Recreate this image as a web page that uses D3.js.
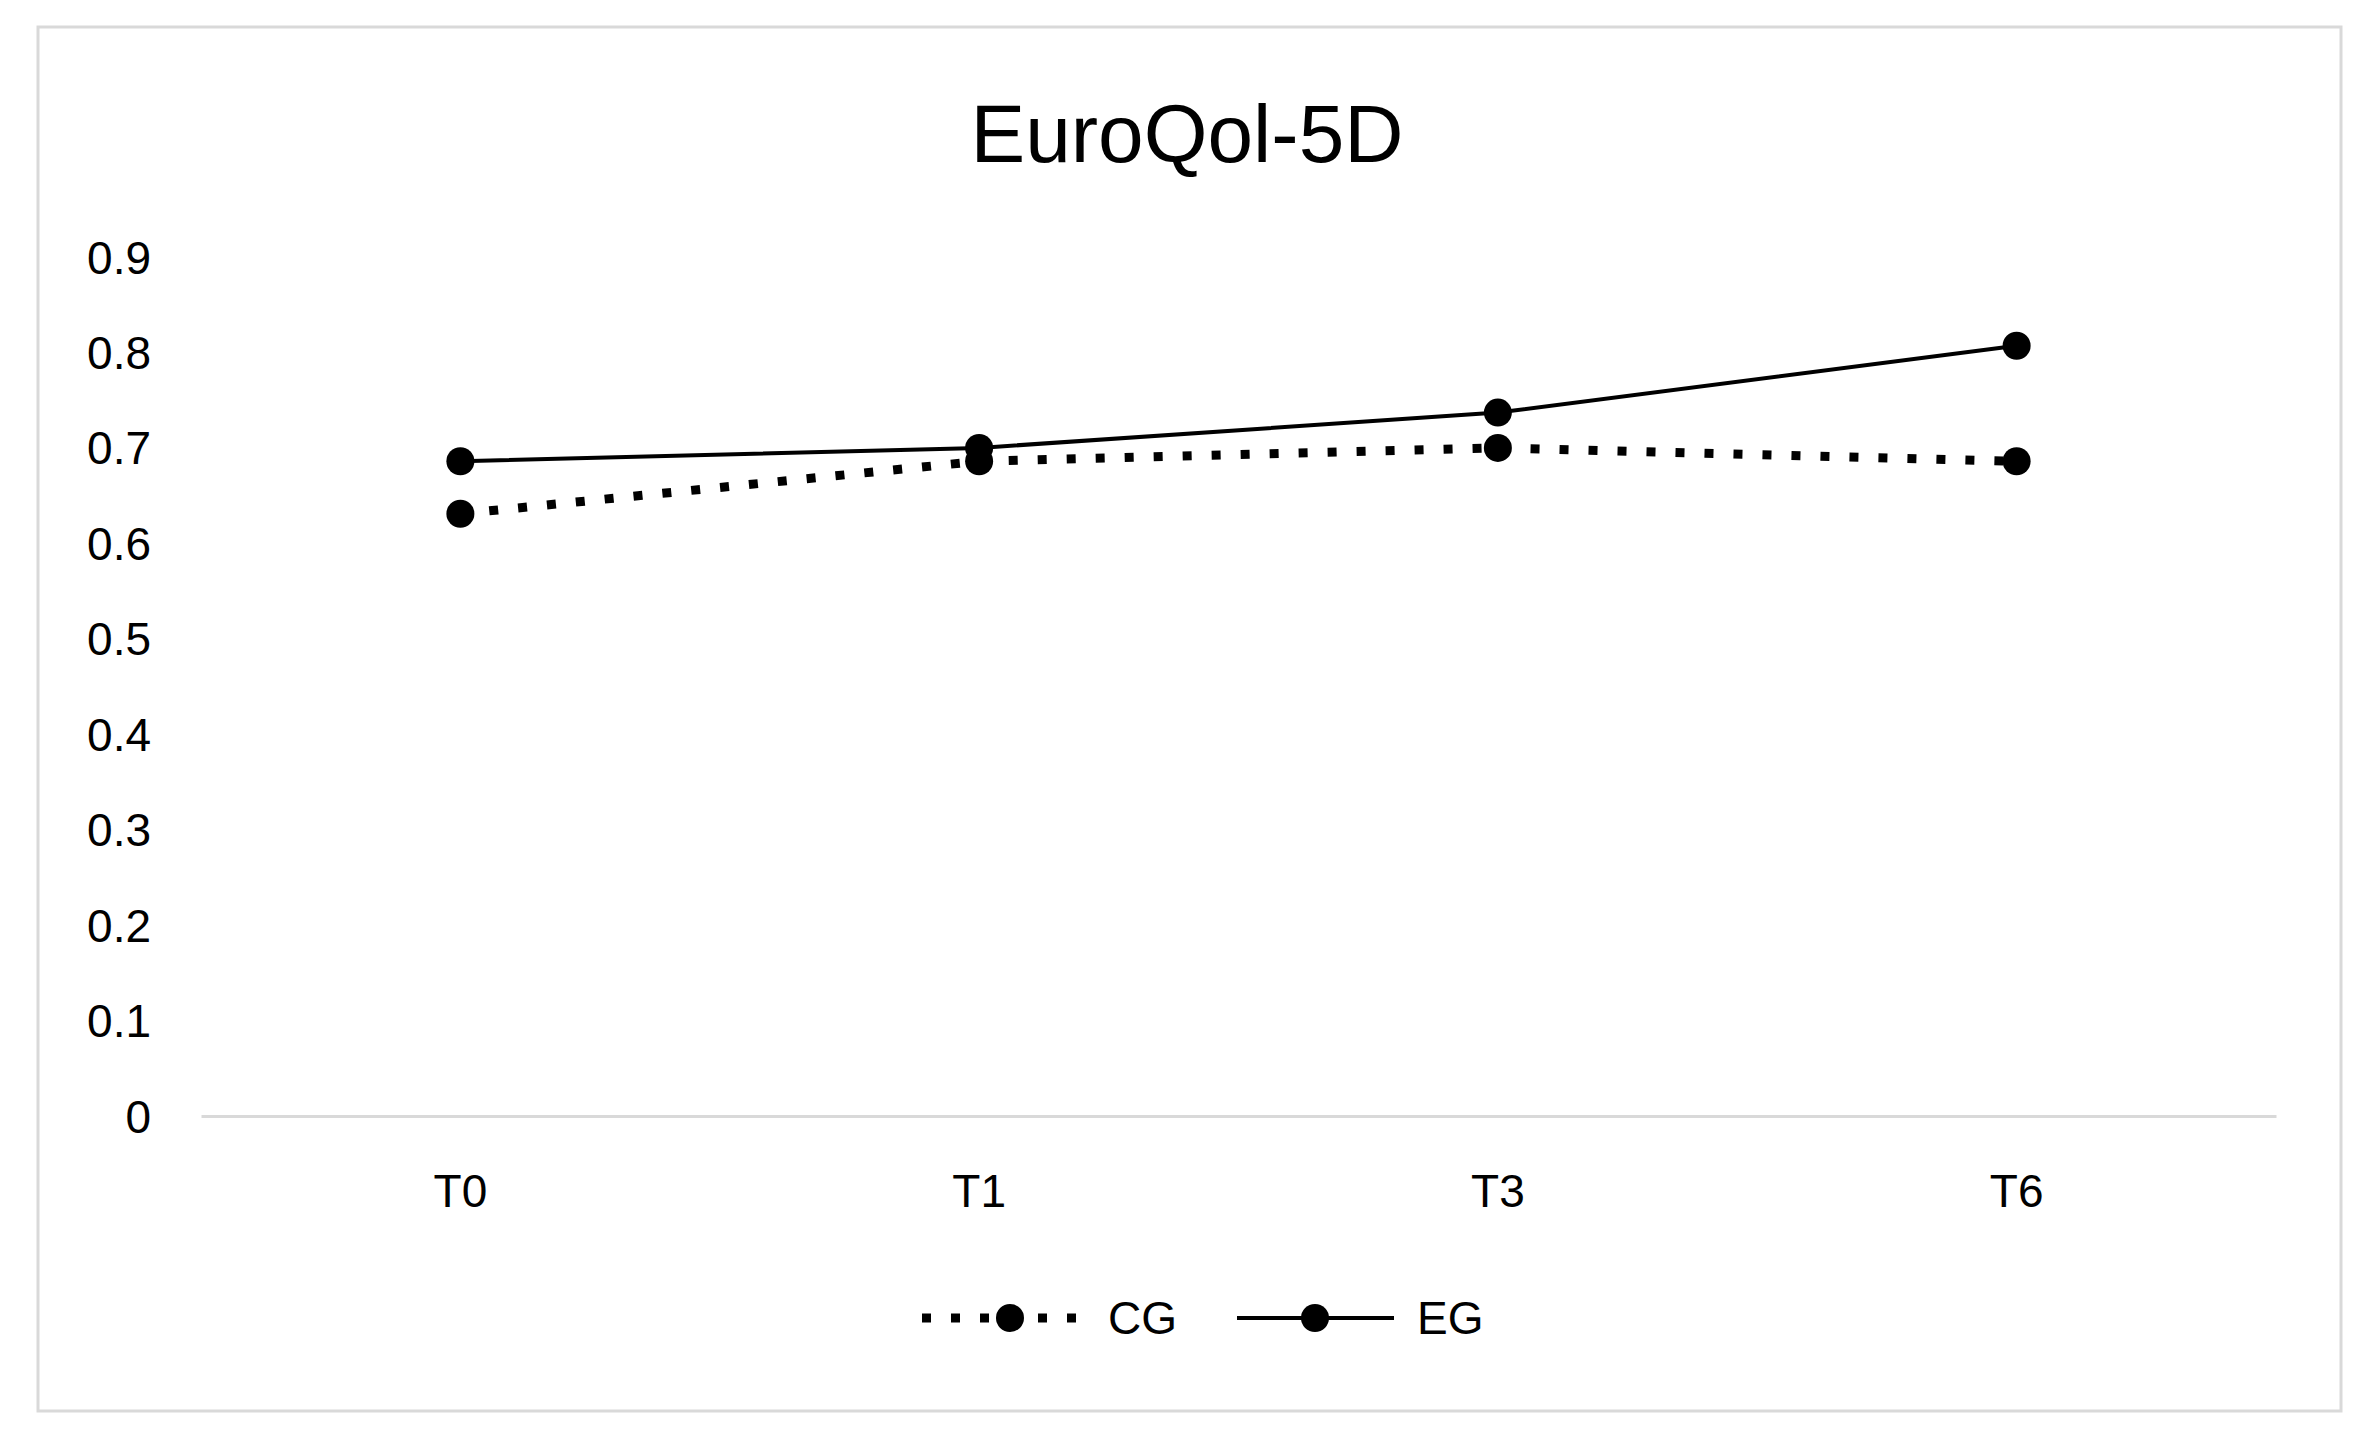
<!DOCTYPE html>
<html>
<head>
<meta charset="utf-8">
<script src="https://cdn.jsdelivr.net/npm/d3@7"></script>
<style>
  body { margin: 0; background: #fff; }
  text { font-family: "Liberation Sans", Arial, sans-serif; fill: #000; }
</style>
</head>
<body>
<div id="visHolder"></div>
<script>
var categories = ["T0", "T1", "T3", "T6"];
var cgValues = [0.631, 0.686, 0.700, 0.686];
var egValues = [0.686, 0.700, 0.737, 0.807];
var yTicks = [0, 0.1, 0.2, 0.3, 0.4, 0.5, 0.6, 0.7, 0.8, 0.9];

var width = 2371, height = 1440;
var plotLeft = 201, plotRight = 2276, plotTop = 257, plotBottom = 1116;

var svg = d3.select("#visHolder")
    .append("svg")
    .attr("width", width)
    .attr("height", height);

/* outer frame */
svg.append("rect")
    .attr("x", 38).attr("y", 27)
    .attr("width", 2303).attr("height", 1384)
    .attr("fill", "none")
    .attr("stroke", "#d9d9d9")
    .attr("stroke-width", 3);

svg.append("text")
    .attr("x", 1187).attr("y", 162)
    .attr("text-anchor", "middle")
    .attr("font-size", 82)
    .text("EuroQol-5D");

var xScale = d3.scaleBand()
    .domain(categories)
    .range([plotLeft, plotRight]);

var yScale = d3.scaleLinear()
    .domain([0, 0.9])
    .range([plotBottom, plotTop]);

var cx = d => xScale(d) + xScale.bandwidth() / 2;

/* y axis labels, no line */
var yAxis = d3.axisLeft(yScale)
    .tickValues(yTicks)
    .tickSize(0)
    .tickPadding(0)
    .tickFormat(d => d === 0 ? "0" : d3.format(".1f")(d));

var gy = svg.append("g")
    .attr("transform", "translate(151,0)")
    .call(yAxis);
gy.select(".domain").remove();
gy.selectAll("text")
    .attr("font-size", 46)
    .attr("font-family", "Liberation Sans, Arial, sans-serif")
    .attr("fill", "#000")
    .attr("dy", "0.35em");

/* x axis */
var xAxis = d3.axisBottom(xScale).tickSize(0).tickPadding(0);
var gx = svg.append("g")
    .attr("transform", "translate(0," + plotBottom + ")")
    .call(xAxis);
gx.select(".domain")
    .attr("stroke", "#d9d9d9")
    .attr("stroke-width", 3);
gx.selectAll("text")
    .attr("font-size", 46)
    .attr("font-family", "Liberation Sans, Arial, sans-serif")
    .attr("fill", "#000")
    .attr("y", 91)
    .attr("dy", 0);

var line = d3.line()
    .x((d, i) => cx(categories[i]))
    .y(d => yScale(d));

svg.append("path")
    .datum(cgValues)
    .attr("d", line)
    .attr("fill", "none")
    .attr("stroke", "#000")
    .attr("stroke-width", 9)
    .attr("stroke-dasharray", "9,20");

svg.append("path")
    .datum(egValues)
    .attr("d", line)
    .attr("fill", "none")
    .attr("stroke", "#000")
    .attr("stroke-width", 4);

[cgValues, egValues].forEach(function(vals){
    svg.append("g").selectAll("circle")
        .data(vals)
        .enter()
        .append("circle")
        .attr("cx", (d, i) => cx(categories[i]))
        .attr("cy", d => yScale(d))
        .attr("r", 14)
        .attr("fill", "#000");
});

/* legend */
var legY = 1318;
svg.append("line")
    .attr("x1", 922).attr("x2", 1080)
    .attr("y1", legY).attr("y2", legY)
    .attr("stroke", "#000")
    .attr("stroke-width", 9)
    .attr("stroke-dasharray", "9,20");
svg.append("circle").attr("cx", 1010).attr("cy", legY).attr("r", 14).attr("fill", "#000");
svg.append("text").attr("x", 1108).attr("y", legY + 16).attr("font-size", 46).text("CG");

svg.append("line")
    .attr("x1", 1237).attr("x2", 1394)
    .attr("y1", legY).attr("y2", legY)
    .attr("stroke", "#000")
    .attr("stroke-width", 4);
svg.append("circle").attr("cx", 1315).attr("cy", legY).attr("r", 14).attr("fill", "#000");
svg.append("text").attr("x", 1417).attr("y", legY + 16).attr("font-size", 46).text("EG");
</script>
</body>
</html>
